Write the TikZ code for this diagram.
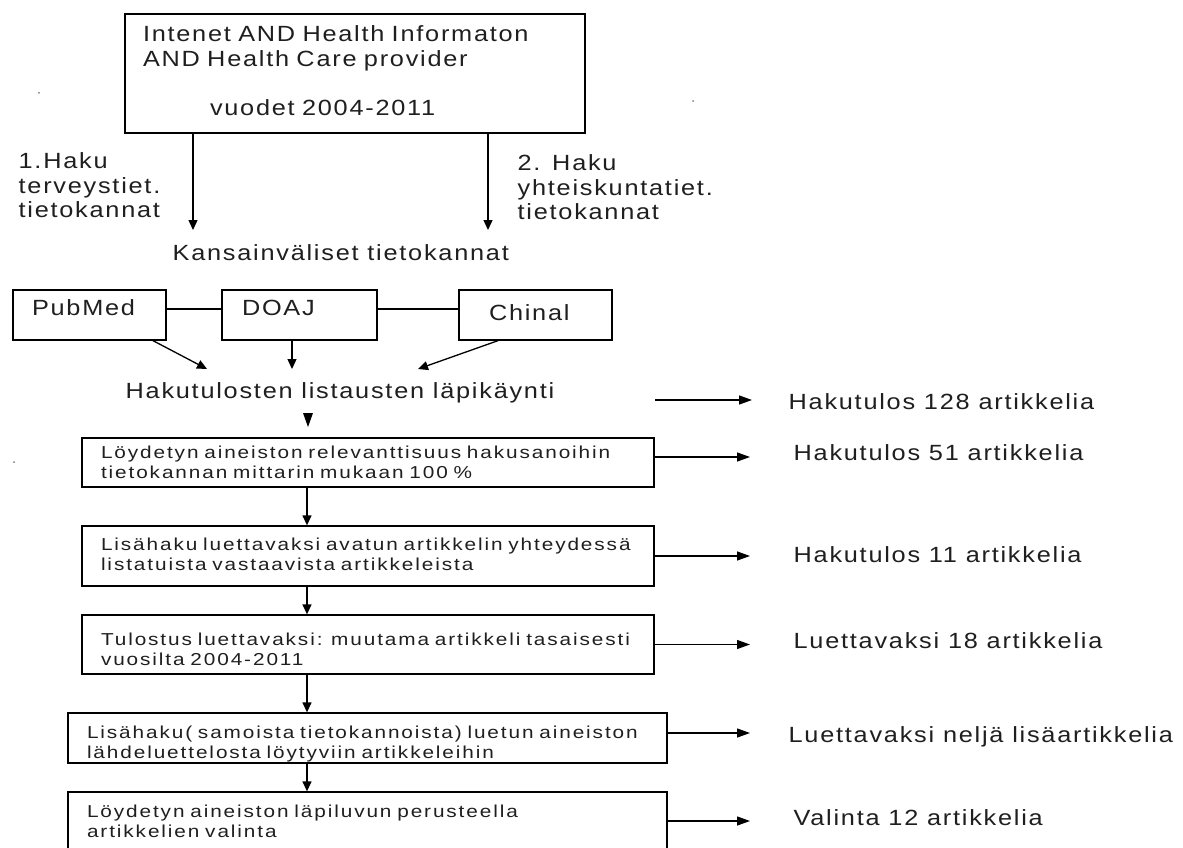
\documentclass[tikz,border=0pt]{standalone}
\usepackage{fontspec}
\setmainfont{Liberation Sans}
\newfontfamily\bigf[FakeStretch=1.15,LetterSpace=8]{Liberation Sans}
\newfontfamily\smf[FakeStretch=1.2,LetterSpace=11]{Liberation Sans}
\usetikzlibrary{arrows.meta}
\begin{document}
\begin{tikzpicture}[x=1pt,y=-1pt,
  line width=1.3pt,
  arr/.style={-{Triangle[length=10pt,width=9pt]}},
  arrr/.style={-{Triangle[length=13pt,width=9pt]}},
  big/.style={font=\bigf\fontsize{22}{24.5}\selectfont, inner sep=0pt, text=black!88},
  sm/.style={font=\smf\fontsize{17.3}{20}\selectfont, inner sep=0pt, text=black!88},
  box/.style={draw, rectangle, align=left},
]
\useasboundingbox (0,0) rectangle (1183,848);
\fill[white] (0,0) rectangle (1183,848);
\clip (0,0) rectangle (1183,848);

% top box
\node[box, big, minimum width=460pt, minimum height=119pt, inner xsep=18pt,
  text width=424pt, text height=16pt, text depth=79pt] (top) at (355,73.5)
  {Intenet AND Health Informaton\\AND Health Care provider\\[24.5pt]\hspace*{67pt}vuodet 2004-2011};

\coordinate (k1) at (193,230);
\coordinate (k2) at (488,230);
\draw[arr] (k1 |- top.south) -- (k1);
\draw[arr] (k2 |- top.south) -- (k2);

\node[big, anchor=north west, align=left] (l1) at (18,152)
  {1.Haku\\terveystiet.\\tietokannat};
\node[big, anchor=north west, align=left] (l2) at (517,154)
  {2. Haku\\yhteiskuntatiet.\\tietokannat};

\node[big, anchor=base west] (kans) at (172,260) {Kansainväliset tietokannat};

% database boxes
\node[box, big, minimum width=153pt, minimum height=50pt, inner xsep=19pt,
  text width=115pt, text height=16pt, text depth=16pt] (pub) at (89.5,315) {PubMed};
\node[box, big, minimum width=155pt, minimum height=50pt, inner xsep=20pt,
  text width=115pt, text height=16pt, text depth=16pt] (doaj) at (299.5,315) {DOAJ};
\node[box, big, minimum width=153pt, minimum height=50pt, inner xsep=30pt,
  text width=93pt, text height=16pt, text depth=6pt] (chin) at (535.5,315) {Chinal};

\draw ([yshift=6pt]pub.east) -- ([yshift=6pt]doaj.west);
\draw ([yshift=6pt]doaj.east) -- ([yshift=6pt]chin.west);

\node[big, anchor=base west] (hak) at (125,398) {Hakutulosten listausten läpikäynti};

\coordinate (h1) at (207,369);
\coordinate (h2) at (292,369);
\coordinate (h3) at (418,369);
\draw[arr] ([xshift=63.5pt]pub.south) -- (h1);
\draw[arr] ([xshift=-7.5pt]doaj.south) -- (h2);
\draw[arr] ([xshift=-37.5pt]chin.south) -- (h3);

\fill (303,413) -- (313,413) -- (308,427) -- cycle;

% process boxes
\node[box, sm, minimum width=572pt, minimum height=49pt, inner xsep=19pt,
  text width=534pt, text height=12pt, text depth=21pt] (b1) at (368,462.5)
  {\mbox{Löydetyn aineiston relevanttisuus hakusanoihin}\\\mbox{tietokannan mittarin mukaan 100 \%}};
\node[box, sm, minimum width=572pt, minimum height=60pt, inner xsep=19pt,
  text width=534pt, text height=12pt, text depth=24pt] (b2) at (368,556)
  {\mbox{Lisähaku luettavaksi avatun artikkelin yhteydessä}\\\mbox{listatuista vastaavista artikkeleista}};
\node[box, sm, minimum width=572pt, minimum height=59pt, inner xsep=19pt,
  text width=534pt, text height=12pt, text depth=11pt] (b3) at (368,644.5)
  {\mbox{Tulostus luettavaksi: muutama artikkeli tasaisesti}\\\mbox{vuosilta 2004-2011}};
\node[box, sm, minimum width=599pt, minimum height=50pt, inner xsep=19pt,
  text width=561pt, text height=12pt, text depth=12pt] (b4) at (367.5,738)
  {\mbox{Lisähaku( samoista tietokannoista) luetun aineiston}\\\mbox{lähdeluettelosta löytyviin artikkeleihin}};
\node[box, sm, minimum width=599pt, minimum height=58pt, inner xsep=19pt,
  text width=561pt, text height=12pt, text depth=20pt] (b5) at (367.5,821)
  {\mbox{Löydetyn aineiston läpiluvun perusteella}\\\mbox{artikkelien valinta}};

\coordinate (vx) at (307,0);
\draw[arr] (vx |- b1.south) -- (vx |- b2.north);
\draw[arr] (vx |- b2.south) -- (vx |- b3.north);
\draw[arr] (vx |- b3.south) -- (vx |- b4.north);
\draw[arr] (vx |- b4.south) -- (vx |- b5.north);

% results
\coordinate (a0) at (655,400);
\node[big, anchor=base west] (r0) at (788,409) {Hakutulos 128 artikkelia};
\node[big, anchor=base west] (r1) at (793,460) {Hakutulos 51 artikkelia};
\node[big, anchor=base west] (r2) at (793,562) {Hakutulos 11 artikkelia};
\node[big, anchor=base west] (r3) at (793,648) {Luettavaksi 18 artikkelia};
\node[big, anchor=base west] (r4) at (788,742) {Luettavaksi neljä lisäartikkelia};
\node[big, anchor=base west] (r5) at (793,825) {Valinta 12 artikkelia};

\draw[arrr, shorten >=36pt] (a0) -- (a0 -| r0.west);
\draw[arrr, shorten >=43pt] ([yshift=5.5pt]b1.east) -- ([yshift=5.5pt]b1.east -| r1.west);
\draw[arrr, shorten >=43pt] (b2.east) -- (b2.east -| r2.west);
\draw[arrr, shorten >=43pt] (b3.east) -- (b3.east -| r3.west);
\draw[arrr, shorten >=38pt] ([yshift=5pt]b4.east) -- ([yshift=5pt]b4.east -| r4.west);
\draw[arrr, shorten >=43pt] (b5.east) -- (b5.east -| r5.west);

% stray dots
\fill[gray] (39,93) circle (1pt);
\fill[gray] (693,101) circle (1pt);
\fill[gray] (14,462) circle (1pt);
\end{tikzpicture}
\end{document}
